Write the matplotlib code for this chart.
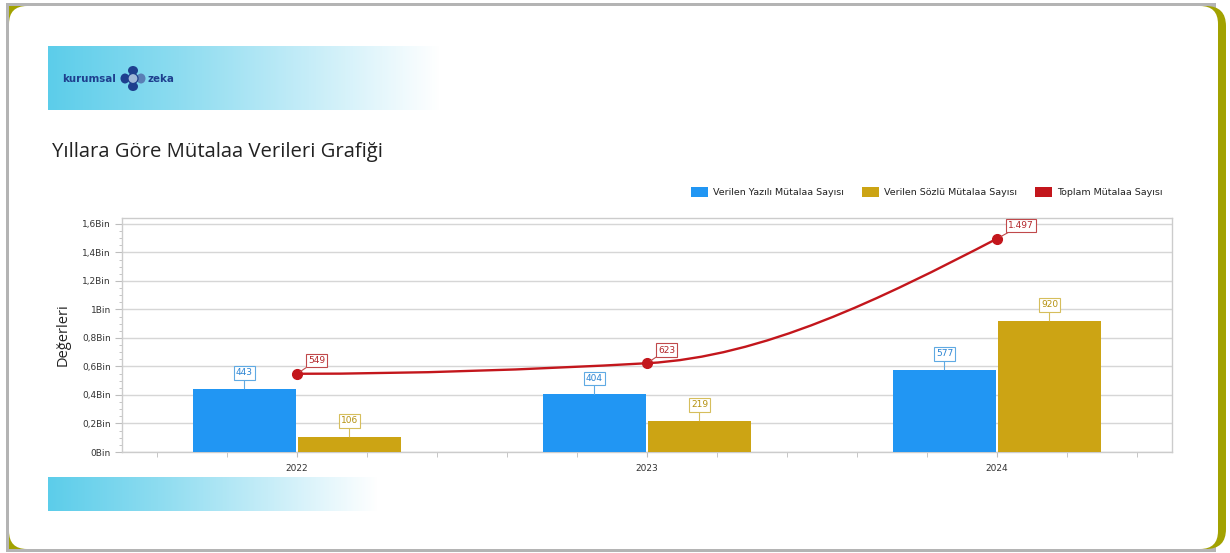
import numpy as np
import matplotlib
matplotlib.use("Agg")
import matplotlib.pyplot as plt
from matplotlib.patches import FancyBboxPatch, Rectangle, Circle, Ellipse, Patch, PathPatch
from matplotlib.path import Path
from matplotlib.colors import LinearSegmentedColormap
from matplotlib.ticker import MultipleLocator, FixedLocator

# ---------------- data ----------------
years = ["2022", "2023", "2024"]
yazili = [443, 404, 577]
sozlu = [106, 219, 920]
toplam = [549, 623, 1497]
series_names = ["Verilen Yazılı Mütalaa Sayısı", "Verilen Sözlü Mütalaa Sayısı", "Toplam Mütalaa Sayısı"]
title = "Yıllara Göre Mütalaa Verileri Grafiği"
ylabel = "Değerleri"
yticks = [0, 200, 400, 600, 800, 1000, 1200, 1400, 1600]

BLUE = "#2196F3"
GOLD = "#CCA414"
RED = "#C3161C"

W, H = 1230, 553
fig = plt.figure(figsize=(W / 100, H / 100), dpi=100)
fig.patch.set_facecolor("white")

# ---------------- background / frame ----------------
bg = fig.add_axes([0, 0, 1, 1], zorder=0)
bg.set_xlim(0, W)
bg.set_ylim(H, 0)
bg.axis("off")

OLIVE = "#A2A200"
bg.add_patch(Rectangle((6, 3), 1210, 549, fc="#B4B4B4", ec="none"))
bg.add_patch(Rectangle((9, 6), 1150, 543, fc=OLIVE, ec="none"))
bg.add_patch(FancyBboxPatch((40, 6), 1186, 543, boxstyle="round,pad=0,rounding_size=20",
                            fc=OLIVE, ec="none"))
bg.add_patch(FancyBboxPatch((9, 6), 1209, 543, boxstyle="round,pad=0,rounding_size=18",
                            fc="white", ec="none"))

cmap = LinearSegmentedColormap.from_list("g", ["#5CCDEA", "#8DDCF0", "#C6EDF8", "#FFFFFF"])
grad = np.linspace(0, 1, 256).reshape(1, -1)
bg.imshow(grad, extent=(48, 440, 110, 46), aspect="auto", cmap=cmap, zorder=1)
bg.imshow(grad, extent=(48, 378, 511, 477), aspect="auto", cmap=cmap, zorder=1)

# logo
NAVY = "#1E3F8E"
bg.text(62, 79, "kurumsal", color=NAVY, fontsize=7.4, fontweight="bold", va="center",
        ha="left", family="DejaVu Sans", zorder=3)
bg.add_patch(Ellipse((125, 78.5), 9, 10, fc=NAVY, ec="none", zorder=3))
bg.add_patch(Ellipse((133, 70.5), 10, 9, fc=NAVY, ec="none", zorder=3))
bg.add_patch(Ellipse((133, 86.5), 10, 9, fc=NAVY, ec="none", zorder=3))
bg.add_patch(Ellipse((141, 78.5), 9, 10, fc="#5A7FB5", ec="none", zorder=3))
bg.add_patch(Circle((133, 78.5), 5, fc="#9FB8D8", ec=NAVY, lw=0.9, zorder=4))
bg.text(148, 79, "zeka", color=NAVY, fontsize=7.4, fontweight="bold", va="center",
        ha="left", family="DejaVu Sans", zorder=3)

# title
bg.text(52, 152, title, fontsize=14.6, color="#222222", va="center", ha="left",
        family="Open Sans", zorder=3)

# ---------------- chart axes ----------------
L, R, T, B = 122, 1172, 218, 452
ax = fig.add_axes([L / W, 1 - B / H, (R - L) / W, (B - T) / H], zorder=2)
ax.set_facecolor("none")

x = np.arange(len(years))
bw = 0.3
ax.bar(x - bw / 2, yazili, width=bw - 0.004, color=BLUE, zorder=3)
ax.bar(x + bw / 2, sozlu, width=bw - 0.004, color=GOLD, zorder=3)

# smooth line (monotone cubic drawn as Bezier path)
xs = x.astype(float)
ys = np.array(toplam, dtype=float)
d = np.diff(ys)
m = np.zeros_like(ys)
for i in range(1, len(ys) - 1):
    if d[i - 1] * d[i] > 0:
        m[i] = 2 * d[i - 1] * d[i] / (d[i - 1] + d[i])
m0 = (3 * d[0] - d[1]) / 2
m[0] = m0 if m0 * d[0] > 0 else 0
mn = (3 * d[-1] - d[-2]) / 2
m[-1] = mn if mn * d[-1] > 0 else 0
verts = [(xs[0], ys[0])]
codes = [Path.MOVETO]
for i in range(len(ys) - 1):
    verts += [(xs[i] + 1 / 3, ys[i] + m[i] / 3), (xs[i + 1] - 1 / 3, ys[i + 1] - m[i + 1] / 3),
              (xs[i + 1], ys[i + 1])]
    codes += [Path.CURVE4] * 3
ax.add_patch(PathPatch(Path(verts, codes), fill=False, ec=RED, lw=1.7, zorder=5))
ax.plot(xs, ys, "o", color=RED, ms=7, zorder=6)

ax.set_xlim(-0.5, 2.5)
ax.set_ylim(0, 1642)

ax.set_yticks(yticks)
ax.set_yticklabels([(f"{v / 1000:g}".replace(".", ",") + "Bin") for v in yticks])
ax.yaxis.set_minor_locator(MultipleLocator(50))
ax.set_xticks(x)
ax.set_xticklabels(years)
ax.xaxis.set_minor_locator(FixedLocator([k + o for k in range(3) for o in (-0.4, -0.2, 0.2, 0.4)]))

ax.grid(axis="y", which="major", color="#D6D6D6", lw=1, zorder=0)
for s in ax.spines.values():
    s.set_color("#CCCCCC")
    s.set_linewidth(1)
ax.tick_params(axis="both", which="both", color="#BDBDBD", labelcolor="#333333", labelsize=6.5)
ax.tick_params(axis="y", which="major", length=5, pad=3)
ax.tick_params(axis="y", which="minor", length=2.5)
ax.tick_params(axis="x", which="both", length=3.5, pad=5)
ax.set_ylabel(ylabel, fontsize=10.5, family="Open Sans", color="#222222", labelpad=8)

def fmt(v):
    return f"{v:,}".replace(",", ".")

def bar_label(xp, v, ec, tc):
    ax.annotate(fmt(v), xy=(xp, v), xytext=(0, 11.5), textcoords="offset points",
                ha="center", va="center", fontsize=6.5, color=tc, zorder=7,
                bbox=dict(boxstyle="square,pad=0.25", fc="white", ec=ec, lw=0.8),
                arrowprops=dict(arrowstyle="-", color=ec, lw=0.8, shrinkA=0, shrinkB=0))

for i in range(len(years)):
    bar_label(x[i] - bw / 2, yazili[i], "#5FAAE3", "#2B84D3")
    bar_label(x[i] + bw / 2, sozlu[i], "#D6BE5C", "#B5910E")
    ax.annotate(fmt(toplam[i]), xy=(xs[i], ys[i]), xytext=(8, 9.5), textcoords="offset points",
                ha="left", va="center", fontsize=6.5, color="#B3262A", zorder=7,
                bbox=dict(boxstyle="square,pad=0.25", fc="white", ec="#C0494B", lw=0.8),
                arrowprops=dict(arrowstyle="-", color="#C0494B", lw=0.8, shrinkA=0, shrinkB=3))

handles = [Patch(fc=BLUE, ec="none"), Patch(fc=GOLD, ec="none"), Patch(fc=RED, ec="none")]
fig.legend(handles, series_names, loc="center left", bbox_to_anchor=(691 / W, 1 - 192 / H),
           ncol=3, frameon=False, fontsize=6.8, handlelength=1.75, handleheight=1.3,
           handletextpad=0.6, columnspacing=1.9, borderpad=0, borderaxespad=0,
           labelcolor="#222222")

fig.savefig("out.png", dpi=100)
